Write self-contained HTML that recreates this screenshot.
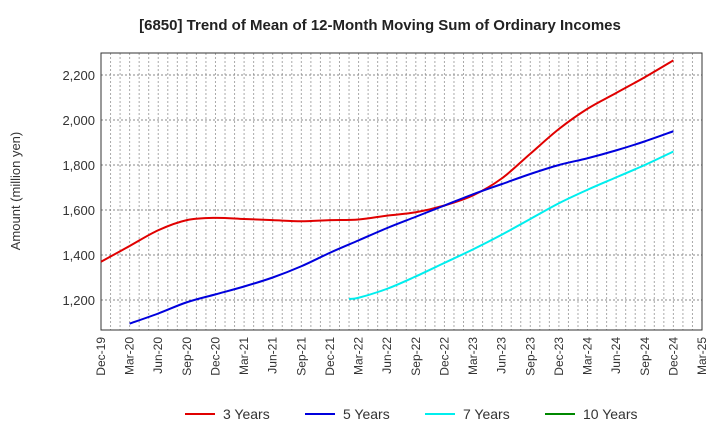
<!DOCTYPE html>
<html><head><meta charset="utf-8"><style>
body{margin:0;background:#fff;font-family:"Liberation Sans",sans-serif}
svg text{font-family:"Liberation Sans",sans-serif}
</style></head><body>
<svg id="c" width="720" height="440">
<text x="380" y="30" text-anchor="middle" font-size="15" font-weight="bold" fill="#222">[6850]  Trend of Mean of 12-Month Moving Sum of Ordinary Incomes</text>
<text transform="translate(20,191) rotate(-90)" text-anchor="middle" font-size="13" fill="#333">Amount (million yen)</text>
<g id="grid"></g><g id="axes"></g><g id="series"></g><g id="legend"></g>
</svg>
<script>
const xTickLabels=["Dec-19","Mar-20","Jun-20","Sep-20","Dec-20","Mar-21","Jun-21","Sep-21","Dec-21","Mar-22","Jun-22","Sep-22","Dec-22","Mar-23","Jun-23","Sep-23","Dec-23","Mar-24","Jun-24","Sep-24","Dec-24","Mar-25"];
const yTicks=[1200,1400,1600,1800,2000,2200];
const months3=[0,3,6,9,12,15,18,21,24,27,30,33,36,39,42,45,48,51,54,57,60];
const values3=[1370,1440,1510,1555,1565,1560,1555,1550,1555,1558,1575,1590,1620,1665,1740,1850,1960,2050,2120,2190,2265];
const months5=[3,6,9,12,15,18,21,24,27,30,33,36,39,42,45,48,51,54,57,60];
const values5=[1095,1140,1190,1225,1260,1300,1350,1410,1465,1520,1570,1620,1670,1715,1760,1800,1830,1865,1905,1950];
const months7=[26,27,30,33,36,39,42,45,48,51,54,57,60];
const values7=[1205,1210,1250,1305,1365,1425,1490,1560,1630,1690,1745,1800,1860];
const NS="http://www.w3.org/2000/svg";
const L=101,R=702,T=53,B=330;
const xs=m=>L+(R-L)*m/63;
const ys=v=>75+(2200-v)*0.225;
function mk(p,t,a){const e=document.createElementNS(NS,t);for(const k in a)e.setAttribute(k,a[k]);p.appendChild(e);return e;}
const grid=document.getElementById('grid'),axes=document.getElementById('axes'),ser=document.getElementById('series'),leg=document.getElementById('legend');
for(let m=1;m<63;m++){const g=mk(grid,'line',{x1:xs(m),x2:xs(m),y1:T,y2:B,stroke:'#aaa','stroke-dasharray':'2,2','stroke-width':1});

}
yTicks.forEach(v=>{const g=mk(grid,'line',{x1:L,x2:R,y1:ys(v),y2:ys(v),stroke:'#888','stroke-dasharray':'2,2'});


const t=mk(axes,'text',{x:L-6,y:ys(v)+5,'text-anchor':'end','font-size':13,fill:'#333'});t.textContent=v.toLocaleString('en-US');

});
const fr=mk(axes,'rect',{x:L,y:T,width:R-L,height:B-T,fill:'none',stroke:'#333'});


xTickLabels.forEach((s,i)=>{const x=xs(i*3);const t=mk(axes,'text',{transform:`translate(${x+4},${B+7}) rotate(-90)`,'text-anchor':'end','font-size':12,fill:'#333'});t.textContent=s;

});
function path(ms,vs){const p=ms.map((m,i)=>[xs(m),ys(vs[i])]);let d=`M${p[0][0]},${p[0][1]}`;
for(let i=0;i<p.length-1;i++){const p0=p[i-1]||p[i],p1=p[i],p2=p[i+1],p3=p[i+2]||p2;
d+=` C${p1[0]+(p2[0]-p0[0])/6},${p1[1]+(p2[1]-p0[1])/6} ${p2[0]-(p3[0]-p1[0])/6},${p2[1]-(p3[1]-p1[1])/6} ${p2[0]},${p2[1]}`;}return d;}
[[months3,values3,'#e00000','line-3-years'],[months5,values5,'#0000dd','line-5-years'],[months7,values7,'#00eeee','line-7-years']].forEach(s=>{
const e=mk(ser,'path',{d:path(s[0],s[1]),fill:'none',stroke:s[2],'stroke-width':2});

});
[['3 Years','#e00000',185],['5 Years','#0000dd',305],['7 Years','#00eeee',425],['10 Years','#008800',545]].forEach(l=>{
const g=mk(leg,'g',{});


mk(g,'line',{x1:l[2],x2:l[2]+30,y1:414,y2:414,stroke:l[1],'stroke-width':2});
const t=mk(g,'text',{x:l[2]+38,y:419,'font-size':14,fill:'#333'});t.textContent=l[0];});
</script>
</body></html>
